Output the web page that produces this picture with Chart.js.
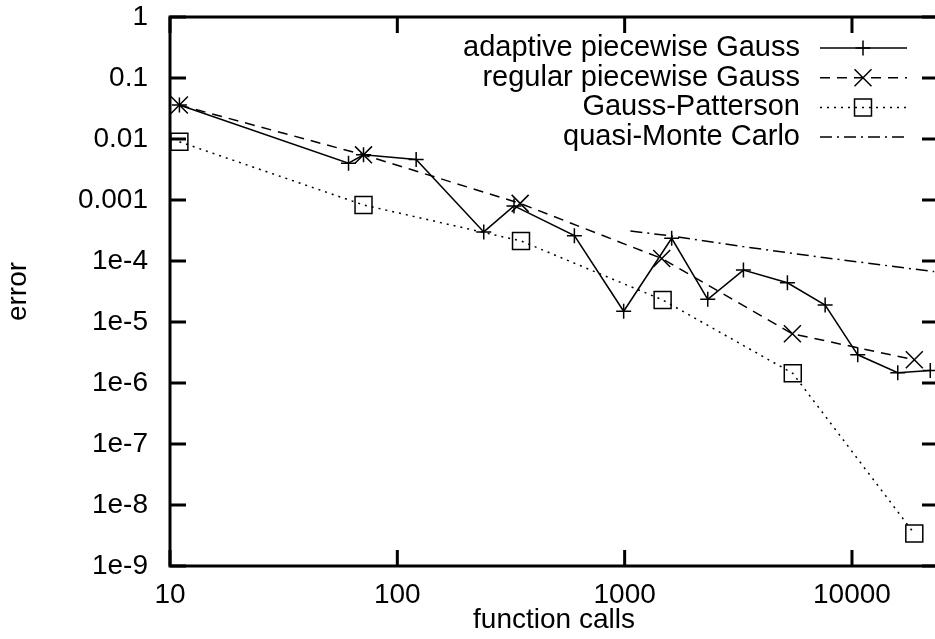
<!DOCTYPE html>
<html>
<head>
<meta charset="utf-8">
<script src="https://cdn.jsdelivr.net/npm/chart.js@4.4.0/dist/chart.umd.min.js"></script>
<style>
  html, body { margin: 0; padding: 0; background: #fff; overflow: hidden; }
  #wrap { position: relative; width: 938px; height: 639px; }
</style>
</head>
<body>
<div id="wrap"><canvas id="errChart"></canvas></div>
<script>
// values (function calls vs. error)
const adaptiveCalls = [11, 61, 71, 121, 240, 326, 601, 990, 1610, 2320, 3330, 5200, 7620, 10600, 15900, 22100];
const adaptiveError = [0.036, 0.0040, 0.0055, 0.0046, 3.0e-4, 8.0e-4, 2.6e-4, 1.5e-5, 2.36e-4, 2.35e-5, 7.1e-5, 4.4e-5, 1.9e-5, 2.9e-6, 1.47e-6, 1.6e-6];

const regularCalls = [11, 71, 347, 1456, 5470, 18800];
const regularError = [0.036, 0.0055, 8.8e-4, 1.1e-4, 6.4e-6, 2.4e-6];

const pattersonCalls = [11, 71, 350, 1469, 5490, 18800];
const pattersonError = [0.009, 8.3e-4, 2.13e-4, 2.3e-5, 1.44e-6, 3.4e-9];

const qmcCalls = [1060, 1610, 3330, 7620, 23000];
const qmcError = [3.1e-4, 2.57e-4, 1.72e-4, 1.13e-4, 6.7e-5];

const seriesNames = ['adaptive piecewise Gauss', 'regular piecewise Gauss', 'Gauss-Patterson', 'quasi-Monte Carlo'];

const xTickValues = [10, 100, 1000, 10000];
const xTickLabels = ['10', '100', '1000', '10000'];
const yTickValues = [1, 0.1, 0.01, 0.001, 1e-4, 1e-5, 1e-6, 1e-7, 1e-8, 1e-9];
const yTickLabels = ['1', '0.1', '0.01', '0.001', '1e-4', '1e-5', '1e-6', '1e-7', '1e-8', '1e-9'];

const toPoints = (xs, ys) => xs.map((v, i) => ({x: v, y: ys[i]}));

Chart.defaults.font.family = '"Liberation Sans", Arial, sans-serif';
Chart.defaults.font.size = 28;
Chart.defaults.color = '#000';

// gnuplot style frame: full border with inward ticks on all sides
const gnuplotFrame = {
    id: 'gnuplotFrame',
    afterDatasetsDraw(chart) {
        const {ctx, chartArea: a, scales: {x, y}} = chart;
        ctx.save();
        ctx.strokeStyle = '#000';
        ctx.lineWidth = 3;
        ctx.beginPath();
        xTickValues.forEach(v => {
            const px = x.getPixelForValue(v);
            ctx.moveTo(px, a.bottom); ctx.lineTo(px, a.bottom - 16);
            ctx.moveTo(px, a.top); ctx.lineTo(px, a.top + 16);
        });
        yTickValues.forEach(v => {
            const py = y.getPixelForValue(v);
            ctx.moveTo(a.left, py); ctx.lineTo(a.left + 16, py);
            ctx.moveTo(a.right, py); ctx.lineTo(a.right - 16, py);
        });
        ctx.stroke();
        ctx.strokeRect(a.left, a.top, a.right - a.left, a.bottom - a.top);
        ctx.restore();
    }
};

// key in the top right corner: text right aligned, sample after it
const gnuplotKey = {
    id: 'gnuplotKey',
    afterDraw(chart) {
        const {ctx} = chart;
        ctx.save();
        ctx.font = '29px "Liberation Sans", Arial, sans-serif';
        ctx.textAlign = 'right';
        ctx.textBaseline = 'middle';
        chart.data.datasets.forEach((ds, i) => {
            const rowY = 48 + i * 29.7;
            ctx.fillStyle = '#000';
            ctx.fillText(ds.label, 800, rowY);
            ctx.strokeStyle = ds.borderColor;
            ctx.lineWidth = ds.borderWidth;
            ctx.setLineDash(ds.borderDash || []);
            ctx.beginPath();
            ctx.moveTo(820, rowY);
            ctx.lineTo(907, rowY);
            ctx.stroke();
            ctx.setLineDash([]);
            if (ds.pointRadius > 0) {
                ctx.fillStyle = 'rgba(0,0,0,0)';
                ctx.lineWidth = ds.pointBorderWidth;
                Chart.helpers.drawPoint(ctx, {
                    pointStyle: ds.pointStyle,
                    radius: ds.pointRadius,
                    rotation: 0,
                    borderWidth: ds.pointBorderWidth
                }, 863, rowY);
            }
        });
        ctx.restore();
    }
};

const ctx = document.getElementById('errChart').getContext('2d');
new Chart(ctx, {
    type: 'scatter',
    data: {
        datasets: [{
            label: seriesNames[0],
            data: toPoints(adaptiveCalls, adaptiveError),
            showLine: true,
            borderColor: '#000',
            borderWidth: 1.5,
            pointStyle: 'cross',
            pointRadius: 7.5,
            pointBorderWidth: 1.5,
            pointBorderColor: '#000',
            pointBackgroundColor: 'rgba(0,0,0,0)'
        }, {
            label: seriesNames[1],
            data: toPoints(regularCalls, regularError),
            showLine: true,
            borderColor: '#000',
            borderWidth: 1.5,
            borderDash: [10, 7],
            pointStyle: 'crossRot',
            pointRadius: 12,
            pointBorderWidth: 1.5,
            pointBorderColor: '#000',
            pointBackgroundColor: 'rgba(0,0,0,0)'
        }, {
            label: seriesNames[2],
            data: toPoints(pattersonCalls, pattersonError),
            showLine: true,
            borderColor: '#000',
            borderWidth: 1.5,
            borderDash: [2, 5],
            pointStyle: 'rect',
            pointRadius: 12,
            pointBorderWidth: 1.5,
            pointBorderColor: '#000',
            pointBackgroundColor: 'rgba(0,0,0,0)'
        }, {
            label: seriesNames[3],
            data: toPoints(qmcCalls, qmcError),
            showLine: true,
            borderColor: '#000',
            borderWidth: 1.5,
            borderDash: [12, 5, 2, 5],
            pointRadius: 0
        }]
    },
    options: {
        responsive: true,
        maintainAspectRatio: false,
        animation: false,
        layout: {autoPadding: false, padding: {top: 17, right: 0, bottom: 0, left: 0}},
        plugins: {
            legend: {display: false},
            tooltip: {enabled: false}
        },
        scales: {
            x: {
                type: 'logarithmic',
                min: 10,
                max: 23900,
                grid: {display: false, drawTicks: false},
                border: {display: false},
                afterBuildTicks: scale => { scale.ticks = xTickValues.map(v => ({value: v})); },
                afterFit: scale => {
                    scale.height = 73;
                    scale.paddingLeft = 0;
                    scale.paddingRight = 0;
                },
                ticks: {
                    autoSkip: false,
                    maxRotation: 0,
                    padding: 12,
                    callback: v => xTickLabels[xTickValues.indexOf(v)]
                },
                title: {display: true, text: 'function calls', padding: {top: 0, bottom: 2}}
            },
            y: {
                type: 'logarithmic',
                min: 1e-9,
                max: 1,
                grid: {display: false, drawTicks: false},
                border: {display: false},
                afterBuildTicks: scale => { scale.ticks = yTickValues.map(v => ({value: v})); },
                afterFit: scale => {
                    scale.width = 170;
                    scale.paddingTop = 0;
                    scale.paddingBottom = 0;
                },
                ticks: {
                    autoSkip: false,
                    padding: 22,
                    callback: v => yTickLabels[yTickValues.indexOf(v)]
                },
                title: {display: true, text: 'error', padding: {top: 1, bottom: 0}}
            }
        }
    },
    plugins: [gnuplotFrame, gnuplotKey]
});
</script>
</body>
</html>
